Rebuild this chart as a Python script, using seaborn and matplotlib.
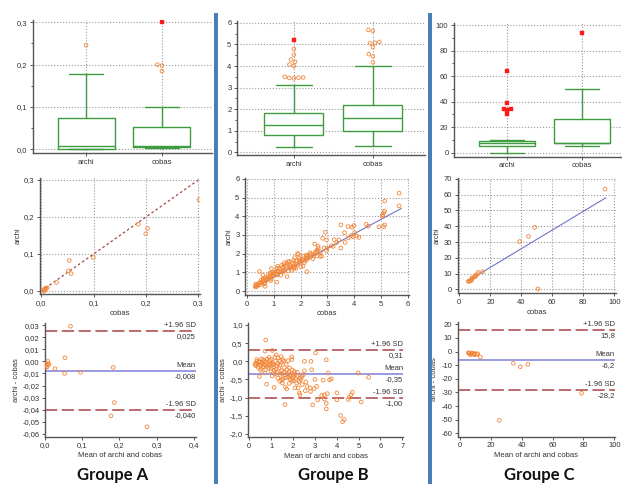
import numpy as np
import pandas as pd
import matplotlib
matplotlib.use("Agg")
import matplotlib.pyplot as plt
from matplotlib.patches import Rectangle
from matplotlib.ticker import FuncFormatter, MultipleLocator, AutoMinorLocator
import seaborn as sns

# ---------------- data ----------------
methods = ["archi", "cobas"]
groups = ["Groupe A", "Groupe B", "Groupe C"]

# box summaries: q1, median, q3, lower whisker, upper whisker
box_A_archi = [0.0, 0.008, 0.075, 0.0, 0.179]
box_A_cobas = [0.005, 0.009, 0.053, 0.002, 0.099]
box_B_archi = [0.80, 1.25, 1.81, 0.23, 3.11]
box_B_cobas = [0.99, 1.61, 2.21, 0.29, 3.98]
box_C_archi = [5.2, 7.3, 9.4, 0.0, 10.2]
box_C_cobas = [7.3, 7.8, 26.2, 5.5, 49.7]

# outside values (open circles) and far out values (red squares)
out_A_archi = [0.246]
out_A_cobas = [0.185, 0.198, 0.200]
far_A_archi = []
far_A_cobas = [0.300]
out_B_archi = [3.43, 3.45, 3.46, 3.47, 3.50, 4.00, 4.07, 4.20, 4.30, 4.53, 4.79]
out_B_cobas = [4.17, 4.45, 4.55, 4.88, 5.05, 5.08, 5.12, 5.63, 5.68]
far_B_archi = [5.21]
far_B_cobas = []
out_C_archi = []
out_C_cobas = []
far_C_archi = [30.1, 33.5, 34.0, 34.2, 38.8, 63.8]
far_C_cobas = [93.6]

# Bland-Altman points: mean of archi and cobas, archi - cobas
mean_A = [0.002, 0.003, 0.005, 0.007, 0.008, 0.010, 0.005, 0.026, 0.053, 0.052,
          0.068, 0.095, 0.183, 0.186, 0.177, 0.274]
diff_A = [-0.005, -0.003, -0.002, 0.000, -0.002, -0.0025, -0.0045, -0.006, 0.003, -0.010,
          0.029, -0.009, -0.005, -0.034, -0.045, -0.054]

mean_B = [0.75, 0.72, 1.05, 3.03, 3.52, 2.82, 2.52, 1.94, 2.85, 3.61, 4.98, 5.46, 3.75, 3.67,
          3.38, 3.00, 3.08, 2.97, 2.78, 2.80, 2.56, 2.64, 2.24, 2.32, 2.29, 2.42, 3.31, 3.43,
          3.57, 3.13, 3.43, 3.52, 2.90, 3.52, 4.01, 4.00, 4.57, 4.65, 4.71, 4.53, 5.12, 1.63,
          4.18, 4.34, 4.27, 0.79, 0.46, 1.13, 1.48, 1.71, 1.65, 2.09, 2.17, 2.36, 1.94, 1.83,
          2.52, 2.47, 2.32, 2.59,
          0.29, 0.38, 0.47, 0.56, 0.66, 0.75, 0.84, 0.93, 1.02, 1.11, 1.20, 1.30, 1.39, 1.48,
          1.57, 1.23, 1.17, 0.99,
          0.34, 0.56, 0.81, 0.90, 1.33, 1.45, 1.55, 1.78, 1.94,
          0.41, 0.53, 0.64, 0.75, 0.87, 0.99, 1.11, 1.23, 1.36, 1.48, 1.60, 1.72, 1.84, 1.97, 2.06,
          1.05, 1.17, 1.30, 1.42, 1.54, 1.63, 1.75, 1.88, 2.00, 2.09, 1.39, 1.51,
          0.26, 0.35, 0.50, 0.69, 0.78, 0.90, 1.08, 1.27, 1.69, 1.81, 1.91, 2.03, 2.18, 2.27, 0.72,
          0.31, 0.44, 0.60, 0.70, 0.95, 1.00, 1.15, 1.25, 1.40, 1.45, 1.58, 1.66, 1.78, 1.86,
          1.98, 2.12, 2.20, 2.40, 0.52, 0.62]
diff_B = [0.59, 0.28, 0.30, 0.23, 0.04, 0.00, 0.00, 0.12, -0.23, -0.32, -0.32, -0.44, -0.48, -0.51,
          -0.52, -0.50, -0.69, -0.75, -0.73, -0.83, -0.81, -0.69, -0.73, -0.92, -0.87, -0.64, -0.94, -0.92,
          -0.89, -1.06, -1.04, -1.16, -1.20, -1.31, -0.87, -1.06, -0.99, -0.92, -0.85, -1.05, -1.12, -1.19,
          -1.49, -1.60, -1.66, -0.63, -0.42, -0.72, -0.52, -0.76, -0.71, -0.73, -0.60, -0.50, -0.55, -0.61,
          -0.26, -0.37, -0.46, -0.57,
          -0.05, -0.07, -0.03, -0.06, -0.09, -0.02, -0.06, 0.02, -0.04, -0.09, 0.00, -0.06, 0.02, -0.03,
          0.00, 0.18, 0.11, 0.05,
          0.05, 0.07, 0.06, 0.11, 0.09, 0.13, 0.05, 0.02, 0.05,
          -0.17, -0.20, -0.15, -0.23, -0.18, -0.26, -0.15, -0.22, -0.18, -0.26, -0.17, -0.23, -0.18, -0.24, -0.28,
          -0.41, -0.35, -0.46, -0.39, -0.48, -0.37, -0.44, -0.50, -0.41, -0.35, -0.55, -0.60,
          -0.09, 0.00, -0.11, 0.02, -0.14, -0.11, -0.07, -0.13, -0.09, -0.29, -0.37, -0.53, -0.41, -0.55, -0.32,
          -0.12, -0.01, -0.03, -0.10, -0.08, -0.20, -0.25, -0.30, -0.10, -0.33, -0.30, -0.45, -0.35, -0.41,
          -0.47, -0.47, -0.30, -0.42, -0.25, 0.04]

mean_C = [5.4, 6.0, 7.1, 8.0, 8.9, 9.7, 10.8, 13.2, 34.6, 39.1, 44.0, 25.5, 78.8,
          5.8, 6.5, 7.5, 9.3, 11.5]
diff_C = [-0.8, -1.5, -2.0, -1.3, -1.8, -1.5, -2.0, -4.0, -8.6, -11.1, -9.4, -50.5, -30.6,
          -1.2, -2.2, -1.0, -2.4, -1.6]

# limits of agreement: +1.96 SD, mean, -1.96 SD
loa_A = [0.025, -0.008, -0.040]
loa_B = [0.31, -0.35, -1.00]
loa_C = [15.8, -6.2, -28.2]
loa_A_text = ["0,025", "-0,008", "-0,040"]
loa_B_text = ["0,31", "-0,35", "-1,00"]
loa_C_text = ["15,8", "-6,2", "-28,2"]

# lines drawn in the scatter panels (identity for A, fitted lines for B and C)
line_A_x = [0.0, 0.3]
line_A_y = [0.0, 0.3]
line_B_x = [0.26, 5.76]
line_B_y = [0.18, 4.42]
line_C_x = [5.8, 94.6]
line_C_y = [5.5, 58.1]

# ---------------- style ----------------
sns.set_theme(style="white")
plt.rcParams["font.family"] = ["Liberation Sans", "DejaVu Sans"]
plt.rcParams["axes.unicode_minus"] = False

orange = "#f2873a"
red = "#ff1a1a"
green = "#3e9c3e"
sd_color = "#a94444"
mean_color = "#7f7fd8"
fit_color = "#7272c8"
axis_color = "#555555"
text_color = "#333333"
grid_color = "#9a9a9a"

W, H = 622, 484
fig = plt.figure(figsize=(W / 100, H / 100), dpi=100)


def panel(l, t, r, b):
    return fig.add_axes([l / W, 1 - b / H, (r - l) / W, (b - t) / H])


def comma(nd):
    return FuncFormatter(lambda v, p: f"{round(v, nd) + 0.0:.{nd}f}".replace(".", ","))


def style(ax, grid=True):
    for s in ["top", "right"]:
        ax.spines[s].set_visible(False)
    for s in ["left", "bottom"]:
        ax.spines[s].set_color(axis_color)
        ax.spines[s].set_linewidth(1.0)
    ax.tick_params(which="both", direction="out", color=axis_color, labelsize=5.5,
                   labelcolor=text_color, pad=1.5, width=0.7,
                   left=True, bottom=True)
    ax.tick_params(which="major", length=2.5)
    ax.tick_params(which="minor", length=1.5)
    if grid:
        ax.xaxis.grid(True, which="major", color=grid_color, linestyle=":", linewidth=0.8)
        ax.yaxis.grid(True, which="major", color=grid_color, linestyle=":", linewidth=0.8)
    else:
        ax.grid(False)
    ax.set_axisbelow(True)


def stats(summary):
    q1, med, q3, lo, hi = summary
    return dict(q1=q1, med=med, q3=q3, whislo=lo, whishi=hi, fliers=[], label="")


def swarm(ax, vals_archi, vals_cobas, marker, filled):
    df = pd.DataFrame({"method": ["archi"] * len(vals_archi) + ["cobas"] * len(vals_cobas),
                       "value": vals_archi + vals_cobas})
    if df.empty:
        return
    if filled:
        sns.swarmplot(data=df, x="method", y="value", order=methods, ax=ax, marker=marker,
                      size=2.3, color=red, edgecolor=red, linewidth=0.3, zorder=4)
    else:
        sns.swarmplot(data=df, x="method", y="value", order=methods, ax=ax, marker=marker,
                      size=2.6, color=orange, facecolor="none", edgecolor=orange,
                      linewidth=0.6, zorder=4)


def box_panel(ax, b_archi, b_cobas, out_a, out_c, far_a, far_c, xlim, ylim, step, nd):
    ax.bxp([stats(b_archi), stats(b_cobas)], positions=[0, 1], widths=0.75, capwidths=0.45,
           showfliers=False, patch_artist=True, manage_ticks=False,
           boxprops=dict(facecolor="white", edgecolor=green, linewidth=1.0),
           medianprops=dict(color=green, linewidth=1.0),
           whiskerprops=dict(color=green, linewidth=1.0),
           capprops=dict(color=green, linewidth=1.0))
    swarm(ax, out_a, out_c, "o", False)
    swarm(ax, far_a, far_c, "s", True)
    ax.set_xlim(*xlim)
    ax.set_ylim(*ylim)
    ax.set_xticks([0, 1])
    ax.set_xticklabels(methods)
    ax.set_xlabel("")
    ax.set_ylabel("")
    ax.yaxis.set_major_locator(MultipleLocator(step))
    ax.yaxis.set_minor_locator(AutoMinorLocator(2))
    ax.yaxis.set_major_formatter(comma(nd))
    style(ax)


def scatter_panel(ax, mean, diff, lx, ly, dashed, xlim, ylim, xstep, ystep, nd):
    m = np.array(mean)
    d = np.array(diff)
    archi = m + d / 2
    cobas = m - d / 2
    if dashed:
        sns.lineplot(x=lx, y=ly, ax=ax, color=sd_color, linewidth=0.9,
                     linestyle=(0, (2, 2)), estimator=None, zorder=2)
    else:
        sns.lineplot(x=lx, y=ly, ax=ax, color=fit_color, linewidth=0.8,
                     estimator=None, zorder=2)
    sns.scatterplot(x=cobas, y=archi, ax=ax, marker="o", s=7, facecolor="none",
                    edgecolor=orange, linewidth=0.6, zorder=3)
    ax.set_xlim(*xlim)
    ax.set_ylim(*ylim)
    ax.xaxis.set_major_locator(MultipleLocator(xstep))
    ax.yaxis.set_major_locator(MultipleLocator(ystep))
    ax.xaxis.set_major_formatter(comma(nd))
    ax.yaxis.set_major_formatter(comma(nd))
    ax.set_xlabel("cobas", fontsize=5.5, color=text_color, labelpad=2)
    ax.set_ylabel("archi", fontsize=5.5, color=text_color, labelpad=2)
    style(ax)


def ba_panel(ax, mean, diff, loa, loa_text, xlim, ylim, xstep, ystep, ndx, ndy):
    sns.scatterplot(x=mean, y=diff, ax=ax, marker="o", s=7, facecolor="none",
                    edgecolor=orange, linewidth=0.6, zorder=3)
    ax.axhline(loa[0], color=sd_color, linewidth=1.1, linestyle=(0, (8, 3)), zorder=2)
    ax.axhline(loa[1], color=mean_color, linewidth=1.1, zorder=2)
    ax.axhline(loa[2], color=sd_color, linewidth=1.1, linestyle=(0, (8, 3)), zorder=2)
    for y, top, bottom in zip(loa, ["+1.96 SD", "Mean", "-1.96 SD"], loa_text):
        ax.annotate(top, xy=(1, y), xycoords=("axes fraction", "data"), xytext=(0, 1.5),
                    textcoords="offset points", ha="right", va="bottom",
                    fontsize=5.5, color=text_color)
        ax.annotate(bottom, xy=(1, y), xycoords=("axes fraction", "data"), xytext=(0, -1.5),
                    textcoords="offset points", ha="right", va="top",
                    fontsize=5.5, color=text_color)
    ax.set_xlim(*xlim)
    ax.set_ylim(*ylim)
    ax.xaxis.set_major_locator(MultipleLocator(xstep))
    ax.yaxis.set_major_locator(MultipleLocator(ystep))
    ax.xaxis.set_major_formatter(comma(ndx))
    ax.yaxis.set_major_formatter(comma(ndy))
    ax.set_xlabel("Mean of archi and cobas", fontsize=5.5, color=text_color, labelpad=2)
    ax.set_ylabel("archi - cobas", fontsize=5.5, color=text_color, labelpad=2)
    style(ax, grid=False)


# ---- row 1: box plots ----
box_panel(panel(33, 20, 212, 153), box_A_archi, box_A_cobas, out_A_archi, out_A_cobas,
          far_A_archi, far_A_cobas, (-0.70, 1.66), (-0.0087, 0.3054), 0.1, 1)
box_panel(panel(237, 21, 425, 155), box_B_archi, box_B_cobas, out_B_archi, out_B_cobas,
          far_B_archi, far_B_cobas, (-0.72, 1.66), (-0.126, 6.09), 1, 0)
box_panel(panel(454, 23, 622, 156.7), box_C_archi, box_C_cobas, out_C_archi, out_C_cobas,
          far_C_archi, far_C_cobas, (-0.71, 1.53), (-3.1, 101.6), 20, 0)

# ---- row 2: archi vs cobas ----
scatter_panel(panel(40, 178, 200, 294.3), mean_A, diff_A, line_A_x, line_A_y, True,
              (-0.0025, 0.3033), (-0.0089, 0.3054), 0.1, 0.1, 1)
scatter_panel(panel(245, 178, 409, 295), mean_B, diff_B, line_B_x, line_B_y, False,
              (-0.086, 6.05), (-0.214, 6.05), 1, 1, 0)
scatter_panel(panel(457.7, 178, 616, 293.3), mean_C, diff_C, line_C_x, line_C_y, False,
              (-1.03, 101.1), (-2.54, 70.6), 20, 10, 0)

# ---- row 3: Bland-Altman ----
ba_panel(panel(45, 323, 196, 436.7), mean_A, diff_A, loa_A, loa_A_text,
         (-0.0008, 0.4063), (-0.0622, 0.0317), 0.1, 0.01, 1, 2)
ba_panel(panel(248.3, 323, 403, 437.3), mean_B, diff_B, loa_B, loa_B_text,
         (-0.046, 7.03), (-2.091, 1.055), 1, 0.5, 0, 1)
ba_panel(panel(457.7, 322, 615, 436.7), mean_C, diff_C, loa_C, loa_C_text,
         (-1.5, 100.5), (-62.5, 21.7), 20, 10, 0, 0)

# ---- group captions and separators ----
for x, name in zip([113, 333, 539], groups):
    fig.text(x / W, 1 - 475 / H, name, ha="center", va="center", fontsize=12,
             fontweight="bold", family=["Lato", "DejaVu Sans"], color="#111111")

for x in [214, 428]:
    fig.add_artist(Rectangle((x / W, 0), 3.6 / W, 1 - 13 / H, transform=fig.transFigure,
                             facecolor="#4a7ebb", edgecolor="none"))

fig.savefig("out.png", dpi=100)
